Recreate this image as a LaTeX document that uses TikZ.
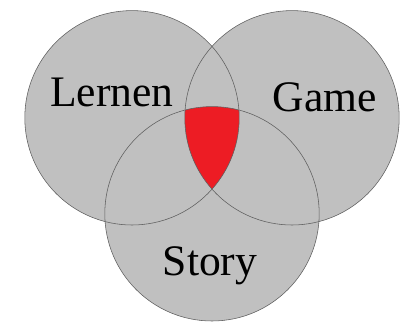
\documentclass[tikz,border=0pt]{standalone}
\usepackage{fontspec}
\setmainfont{Liberation Serif}
\usepackage{tikz}

\definecolor{venngray}{RGB}{192,192,192}
\definecolor{vennred}{RGB}{237,28,36}
\definecolor{vennline}{RGB}{95,95,95}

\begin{document}
\begin{tikzpicture}[x=1cm,y=1cm,every node/.style={font=\fontsize{31}{36}\selectfont}]
                \useasboundingbox (0,0) rectangle (10.075,8.025);

                \coordinate (L) at (3.3,5.08);
                \coordinate (G) at (7.3,5.08);
                \coordinate (S) at (5.3,2.68);

                \fill[venngray] (L) circle (2.68);
                \fill[venngray] (G) circle (2.68);
                \fill[venngray] (S) circle (2.68);

                \begin{scope}
                    \clip (L) circle (2.68);
                    \clip (G) circle (2.68);
                    \fill[vennred] (S) circle (2.68);
                \end{scope}

                \draw[vennline, line width=0.4pt] (L) circle (2.68);
                \draw[vennline, line width=0.4pt] (G) circle (2.68);
                \draw[vennline, line width=0.4pt] (S) circle (2.68);

                \node (lernen) at (2.8,5.72) {Lernen};
                \node (game) at (8.12,5.6) {Game};
                \node (story) at (5.25,1.38) {Story};
            \end{tikzpicture}
\end{document}
